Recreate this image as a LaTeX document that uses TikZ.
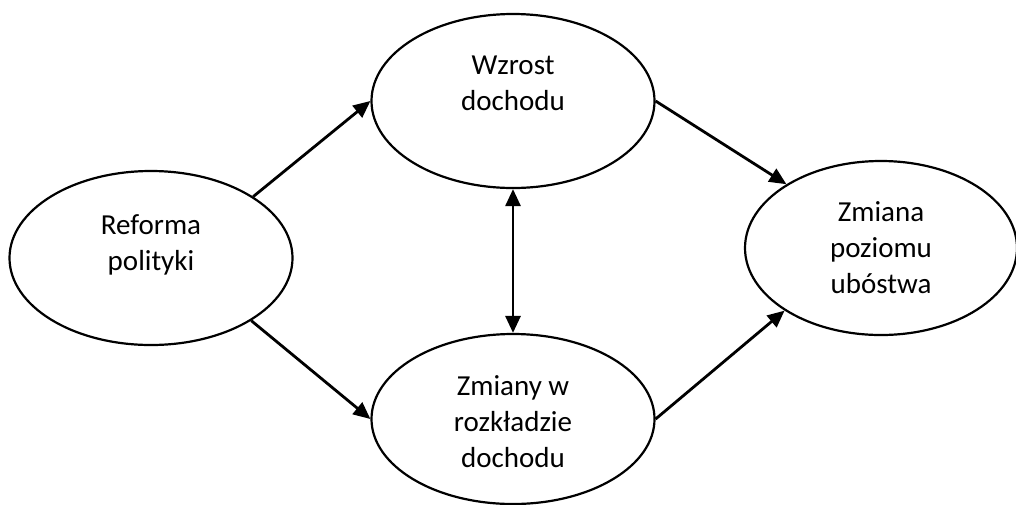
\documentclass[tikz,border=0pt]{standalone}
\usepackage{fontspec}
\setmainfont{Carlito}
\usetikzlibrary{shapes.geometric,arrows.meta}
\begin{document}
\begin{tikzpicture}[x=1pt,y=-1pt,
  oval/.style={draw=black,line width=2.2pt,ellipse,inner sep=0pt},
  txt/.style={align=center,inner sep=0pt,anchor=base,font=\fontsize{29}{36}\selectfont},
  tip/.style={},
  arr/.style={line width=2.8pt,-{Triangle[length=17pt,width=15pt]}},
  darr/.style={line width=2.8pt,{Triangle[length=17pt,width=15pt]}-{Triangle[length=17pt,width=15pt]}}]
\useasboundingbox (0,0) rectangle (1016,504);
\node[oval,minimum width=283pt,minimum height=174pt] (ref) at (151,258) {};
\node[oval,minimum width=283pt,minimum height=174pt] (wz) at (513,101) {};
\node[oval,minimum width=283pt,minimum height=170pt] (zr) at (513,419) {};
\node[oval,minimum width=272pt,minimum height=174pt] (zp) at (881,248) {};
\node[txt] (tref) at (151,270) {Reforma\\polityki};
\node[txt] (twz) at (513,110) {Wzrost\\dochodu};
\node[txt] (tzr) at (513,467) {Zmiany w\\rozkładzie\\dochodu};
\node[txt] (tzp) at (881,293) {Zmiana\\poziomu\\ubóstwa};
\draw[arr] (ref.31) -- (wz.west);
\draw[arr] (ref.-32) -- (zr.west);
\draw[arr] (wz.east) -- (zp.146.7);
\draw[arr] (zr.east) -- (zp.213.7);
\draw[darr] (wz.south) -- (zr.north);
\end{tikzpicture}
\end{document}
